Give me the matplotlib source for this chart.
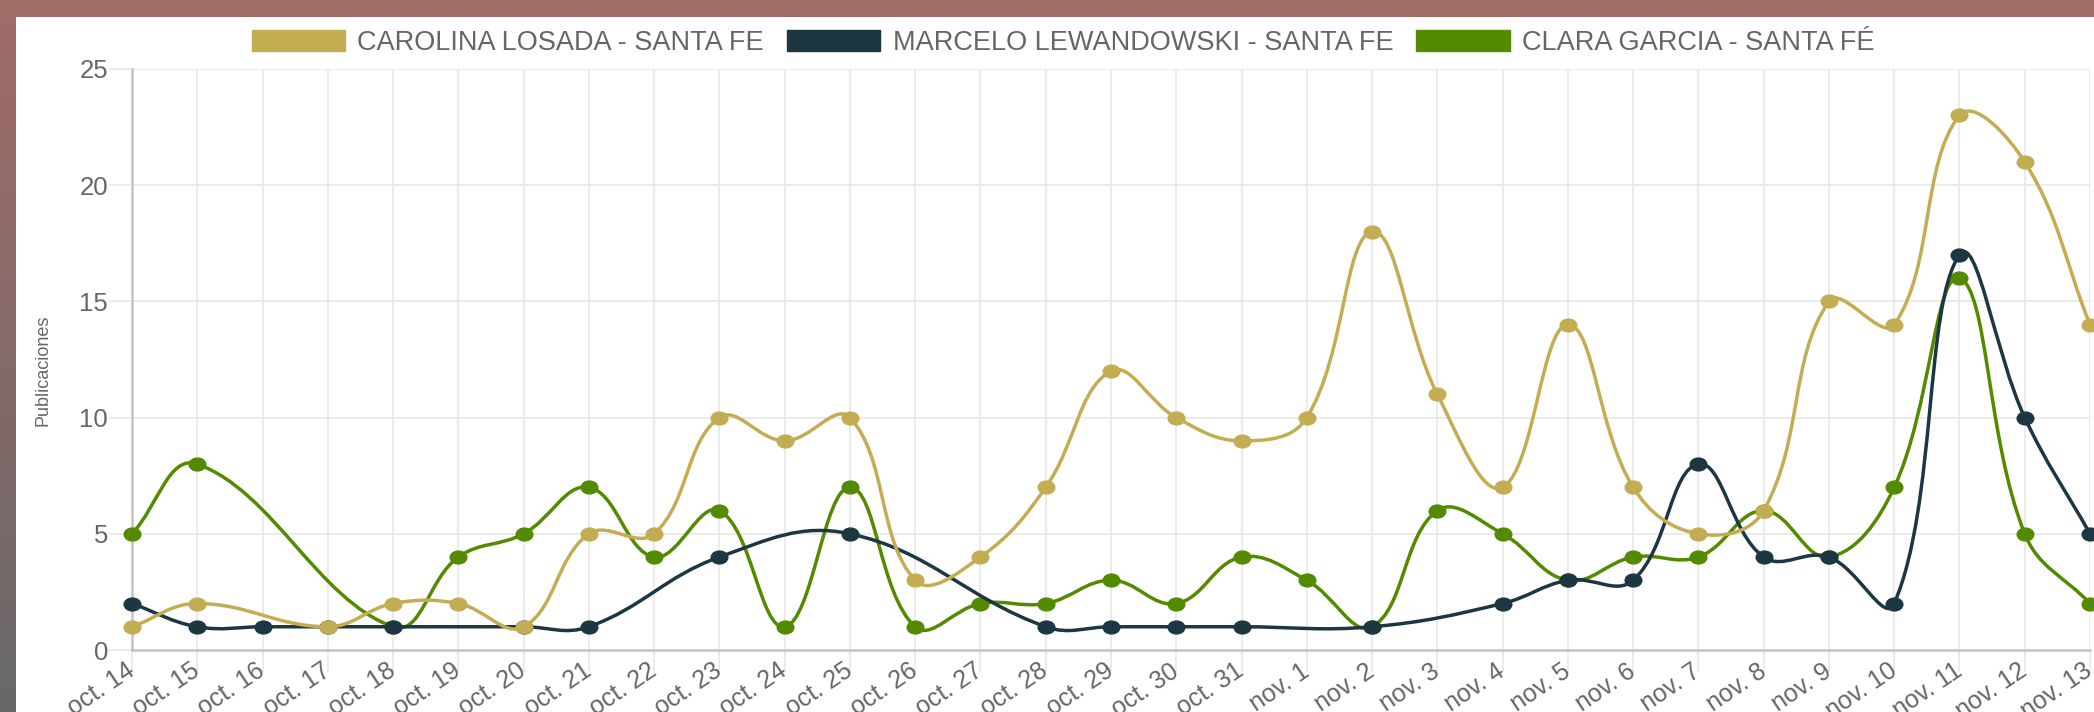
import numpy as np
import matplotlib
matplotlib.use('Agg')
import matplotlib.pyplot as plt
from matplotlib.path import Path
from matplotlib.patches import PathPatch, Patch, Rectangle
from matplotlib.transforms import Affine2D

nan = np.nan

days = ['oct. 14', 'oct. 15', 'oct. 16', 'oct. 17', 'oct. 18', 'oct. 19', 'oct. 20',
        'oct. 21', 'oct. 22', 'oct. 23', 'oct. 24', 'oct. 25', 'oct. 26', 'oct. 27',
        'oct. 28', 'oct. 29', 'oct. 30', 'oct. 31', 'nov. 1', 'nov. 2', 'nov. 3',
        'nov. 4', 'nov. 5', 'nov. 6', 'nov. 7', 'nov. 8', 'nov. 9', 'nov. 10',
        'nov. 11', 'nov. 12', 'nov. 13']

# days with no value are left as nan (line spans the gap)
carolina = [1, 2, nan, 1, 2, 2, 1, 5, 5, 10, 9, 10, 3, 4, 7, 12, 10, 9,
            10, 18, 11, 7, 14, 7, 5, 6, 15, 14, 23, 21, 14]
marcelo = [2, 1, 1, 1, 1, nan, 1, 1, nan, 4, nan, 5, nan, nan, 1, 1, 1, 1,
           nan, 1, nan, 2, 3, 3, 8, 4, 4, 2, 17, 10, 5]
clara = [5, 8, nan, nan, 1, 4, 5, 7, 4, 6, 1, 7, 1, 2, 2, 3, 2, 4,
         3, 1, 6, 5, 3, 4, 4, 6, 4, 7, 16, 5, 2]

names = ['CAROLINA LOSADA - SANTA FE', 'MARCELO LEWANDOWSKI - SANTA FE', 'CLARA GARCIA - SANTA FÉ']
colors = ['#C3AD53', '#1C3642', '#548A00']

W, H = 2094, 712
TENSION = 0.4
GRID = '#e6e6e6'
ZERO = '#c4c4c4'
TXT = '#666666'

plt.rcParams['font.family'] = ['Liberation Sans', 'DejaVu Sans']

# the screenshot is stretched sideways, so the dots are a bit wider than tall
dot = Path.unit_circle().transformed(Affine2D().scale(1.3, 1.0))

fig = plt.figure(figsize=(W / 100, H / 100), dpi=100)
fig.patch.set_facecolor('white')
ax = fig.add_axes([132 / W, 1 - 650 / H, (2090 - 132) / W, (650 - 69) / H])
ax.set_xlim(0, len(days) - 1)
ax.set_ylim(0, 25)


def smooth_line(ax, ys, color, z):
    # chart.js style bezier through the non-missing points
    ys = np.asarray(ys, dtype=float)
    xs = np.arange(len(ys), dtype=float)
    ok = ~np.isnan(ys)
    pts = ax.transData.transform(np.column_stack([xs[ok], ys[ok]]))
    n = len(pts)
    cps = []
    for i in range(n):
        prev = pts[i - 1] if i > 0 else pts[i]
        nxt = pts[i + 1] if i < n - 1 else pts[i]
        d01 = np.hypot(*(pts[i] - prev))
        d12 = np.hypot(*(nxt - pts[i]))
        tot = d01 + d12
        s01 = d01 / tot if tot else 0
        s12 = d12 / tot if tot else 0
        cps.append((pts[i] - TENSION * s01 * (nxt - prev), pts[i] + TENSION * s12 * (nxt - prev)))
    verts = [pts[0]]
    codes = [Path.MOVETO]
    for i in range(n - 1):
        verts += [cps[i][1], cps[i + 1][0], pts[i + 1]]
        codes += [Path.CURVE4] * 3
    verts = ax.transData.inverted().transform(np.array(verts))
    verts[:, 1] = np.clip(verts[:, 1], 0, 25)
    ax.add_patch(PathPatch(Path(verts, codes), facecolor='none', edgecolor=color,
                           lw=2.5, zorder=z, clip_on=False, capstyle='round', joinstyle='round'))
    ax.plot(xs[ok], ys[ok], marker=dot, ms=12, color=color, mec=color, ls='none',
            zorder=z + 0.5, clip_on=False)


series = [carolina, marcelo, clara]
for k in range(3)[::-1]:
    smooth_line(ax, series[k], colors[k], 10 - 2 * k)

ax.set_xticks(range(len(days)))
ax.set_xticklabels(days)
ax.set_yticks(range(0, 26, 5))
ax.grid(True, color=GRID, lw=1.1, zorder=0)
ax.set_axisbelow(True)
for s in ['top', 'right']:
    ax.spines[s].set_visible(False)
for s in ['left', 'bottom']:
    ax.spines[s].set_color(ZERO)
    ax.spines[s].set_linewidth(1.8)
ax.tick_params(axis='y', length=16.5, width=1.1, color=GRID, pad=0.8, labelsize=18.5, labelcolor=TXT)
ax.tick_params(axis='x', length=16, width=1.1, color=GRID, pad=-2.5, labelsize=18, labelcolor=TXT)
ax.xaxis.get_major_ticks()[0].tick1line.set_color(ZERO)
ax.yaxis.get_major_ticks()[0].tick1line.set_color(ZERO)
plt.setp(ax.get_xticklabels(), rotation=34, ha='right', va='center', rotation_mode='anchor')

fig.text(43 / W, 1 - 370 / H, 'Publicaciones', rotation=90, ha='center', va='center',
         fontsize=13, color=TXT)

handles = [Patch(facecolor=c, edgecolor=c) for c in colors]
leg = fig.legend(handles, names, loc='center', bbox_to_anchor=(1063 / W, 1 - 43 / H), ncol=3,
                 frameon=False, fontsize=19.5, handlelength=3.45, handleheight=0.82,
                 handletextpad=0.45, columnspacing=0.85, borderaxespad=0)
for t in leg.get_texts():
    t.set_color(TXT)

# screenshot frame: brown band on top, brown-to-grey band at left
fig.patches.append(Rectangle((0, 1 - 17 / H), 1, 17 / H, transform=fig.transFigure,
                             facecolor='#A06C68', edgecolor='none', zorder=50))
side = fig.add_axes([0, 0, 16 / W, 1 - 17 / H], zorder=50)
top_c = np.array([160, 108, 104]) / 255
bot_c = np.array([104, 104, 104]) / 255
g = np.linspace(0, 1, 200)[:, None]
side.imshow((top_c * (1 - g) + bot_c * g)[:, None, :], aspect='auto', extent=(0, 1, 0, 1))
side.axis('off')

fig.savefig('out.png', dpi=100)
